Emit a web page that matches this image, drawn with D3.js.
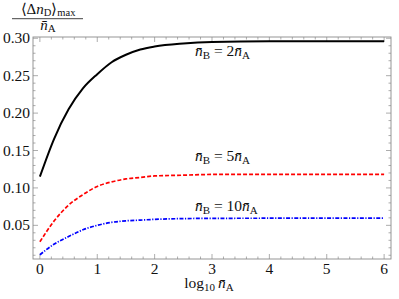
<!DOCTYPE html>
<html><head><meta charset="utf-8">
<script src="https://cdn.jsdelivr.net/npm/d3@7"></script>
<style>
body{margin:0;background:#fff}
</style>
</head><body><svg id="c" width="399" height="299"></svg>
<script>
// data (x = log10 nA)
const xs    = [0, 0.25, 0.5, 0.75, 1.0, 1.25, 1.5, 1.75, 2.0, 2.5, 3.0, 4.0, 5.0, 6.0];
const nB2   = [0.115, 0.166, 0.205, 0.233, 0.252, 0.268, 0.278, 0.285, 0.289, 0.293, 0.295, 0.296, 0.296, 0.296];
const nB5   = [0.028, 0.056, 0.077, 0.091, 0.102, 0.108, 0.112, 0.114, 0.116, 0.117, 0.118, 0.118, 0.118, 0.118];
const nB10  = [0.0107, 0.025, 0.035, 0.044, 0.050, 0.054, 0.056, 0.057, 0.058, 0.059, 0.0593, 0.0595, 0.0595, 0.0595];
const xTicks = [0, 1, 2, 3, 4, 5, 6];
const xTickLabels = ["0", "1", "2", "3", "4", "5", "6"];
const yTicks = [0.05, 0.10, 0.15, 0.20, 0.25, 0.30];
const yTickLabels = ["0.05", "0.10", "0.15", "0.20", "0.25", "0.30"];
const seriesLabels = ["2", "5", "10"];

const FONT = "'Liberation Serif'";
const svg = d3.select("#c");
const L = 33, R = 391, T = 37, B = 259;
const x = d3.scaleLinear().domain([-0.12, 6.12]).range([L, R]);
const y = d3.scaleLinear().domain([0.005, 0.3017]).range([B, T]);

const frameCol = "#8a8a8a";
const txtCol = "#111";
const g = svg.append("g");

// minor ticks
const xMinor = d3.range(0, 6.01, 0.2).filter(v => Math.abs(v - Math.round(v)) > 1e-6);
const yMinor = d3.range(0.01, 0.3001, 0.01).filter(v => Math.abs(v * 20 - Math.round(v * 20)) > 1e-6);

function tickV(vals, len){
  vals.forEach(v => {
    g.append("line").attr("x1", x(v)).attr("x2", x(v)).attr("y1", B).attr("y2", B - len).attr("stroke", frameCol).attr("stroke-width", 0.7);
    g.append("line").attr("x1", x(v)).attr("x2", x(v)).attr("y1", T).attr("y2", T + len).attr("stroke", frameCol).attr("stroke-width", 0.7);
  });
}
function tickH(vals, len){
  vals.forEach(v => {
    g.append("line").attr("y1", y(v)).attr("y2", y(v)).attr("x1", L).attr("x2", L + len).attr("stroke", frameCol).attr("stroke-width", 0.7);
    g.append("line").attr("y1", y(v)).attr("y2", y(v)).attr("x1", R).attr("x2", R - len).attr("stroke", frameCol).attr("stroke-width", 0.7);
  });
}
tickV(xTicks, 5); tickV(xMinor, 2.5);
tickH(yTicks, 5); tickH(yMinor, 2.5);

g.append("rect").attr("x", L).attr("y", T).attr("width", R - L).attr("height", B - T)
  .attr("fill", "none").attr("stroke", frameCol).attr("stroke-width", 0.9);

function txt(){ return g.append("text").style("font-family", FONT).attr("fill", txtCol); }

// tick labels
xTicks.forEach((v, i) => {
  txt().attr("x", x(v)).attr("y", B + 15).attr("text-anchor", "middle")
    .attr("font-size", 15.5).text(xTickLabels[i]);
});
yTicks.forEach((v, i) => {
  txt().attr("x", L - 3).attr("y", y(v) + 5).attr("text-anchor", "end")
    .attr("font-size", 15.5).text(yTickLabels[i]);
});

// curves
const line = d3.line().x((d, i) => x(xs[i])).y(d => y(d)).curve(d3.curveMonotoneX);
g.append("path").datum(nB2).attr("d", line).attr("fill", "none").attr("stroke", "#000").attr("stroke-width", 2);
g.append("path").datum(nB5).attr("d", line).attr("fill", "none").attr("stroke", "#f00").attr("stroke-width", 1.7).attr("stroke-dasharray", "4,2");
g.append("path").datum(nB10).attr("d", line).attr("fill", "none").attr("stroke", "#00f").attr("stroke-width", 1.7).attr("stroke-dasharray", "4,1.5,1.2,1.5");

// curve labels
function nbar(t, sub, dy){
  t.append("tspan").style("font-style", "italic").text("n\u0304");
  t.append("tspan").attr("font-size", 11).attr("dy", dy || 3).text(sub);
}
const labPos = [[195, 56], [195, 161], [195, 211]];
seriesLabels.forEach((s, i) => {
  const t = txt().attr("x", labPos[i][0]).attr("y", labPos[i][1]).attr("font-size", 15.5);
  nbar(t, "B");
  t.append("tspan").attr("dy", -3).text(" = " + s);
  nbar(t, "A");
});

// x axis title
const xt = txt().attr("x", 209).attr("y", 288).attr("text-anchor", "middle").attr("font-size", 15.5);
xt.append("tspan").text("log");
xt.append("tspan").attr("font-size", 11).attr("dy", 3).text("10");
xt.append("tspan").attr("dy", -3).text("\u2009");
nbar(xt, "A");

// y axis title (fraction)
const num = txt().attr("x", 48).attr("y", 13.5).attr("text-anchor", "middle").attr("font-size", 15);
num.append("tspan").text("\u27E8\u0394");
num.append("tspan").style("font-style", "italic").text("n");
num.append("tspan").attr("font-size", 10.5).attr("dy", 2).text("D");
num.append("tspan").attr("dy", -2).text("\u27E9");
num.append("tspan").attr("font-size", 10.5).attr("dy", 2).text("max");
g.append("line").attr("x1", 12).attr("x2", 83).attr("y1", 18.7).attr("y2", 18.7).attr("stroke", txtCol).attr("stroke-width", 0.8);
const den = txt().attr("x", 48).attr("y", 29.5).attr("text-anchor", "middle").attr("font-size", 15);
nbar(den, "A", 2.5);
</script>
</body></html>
